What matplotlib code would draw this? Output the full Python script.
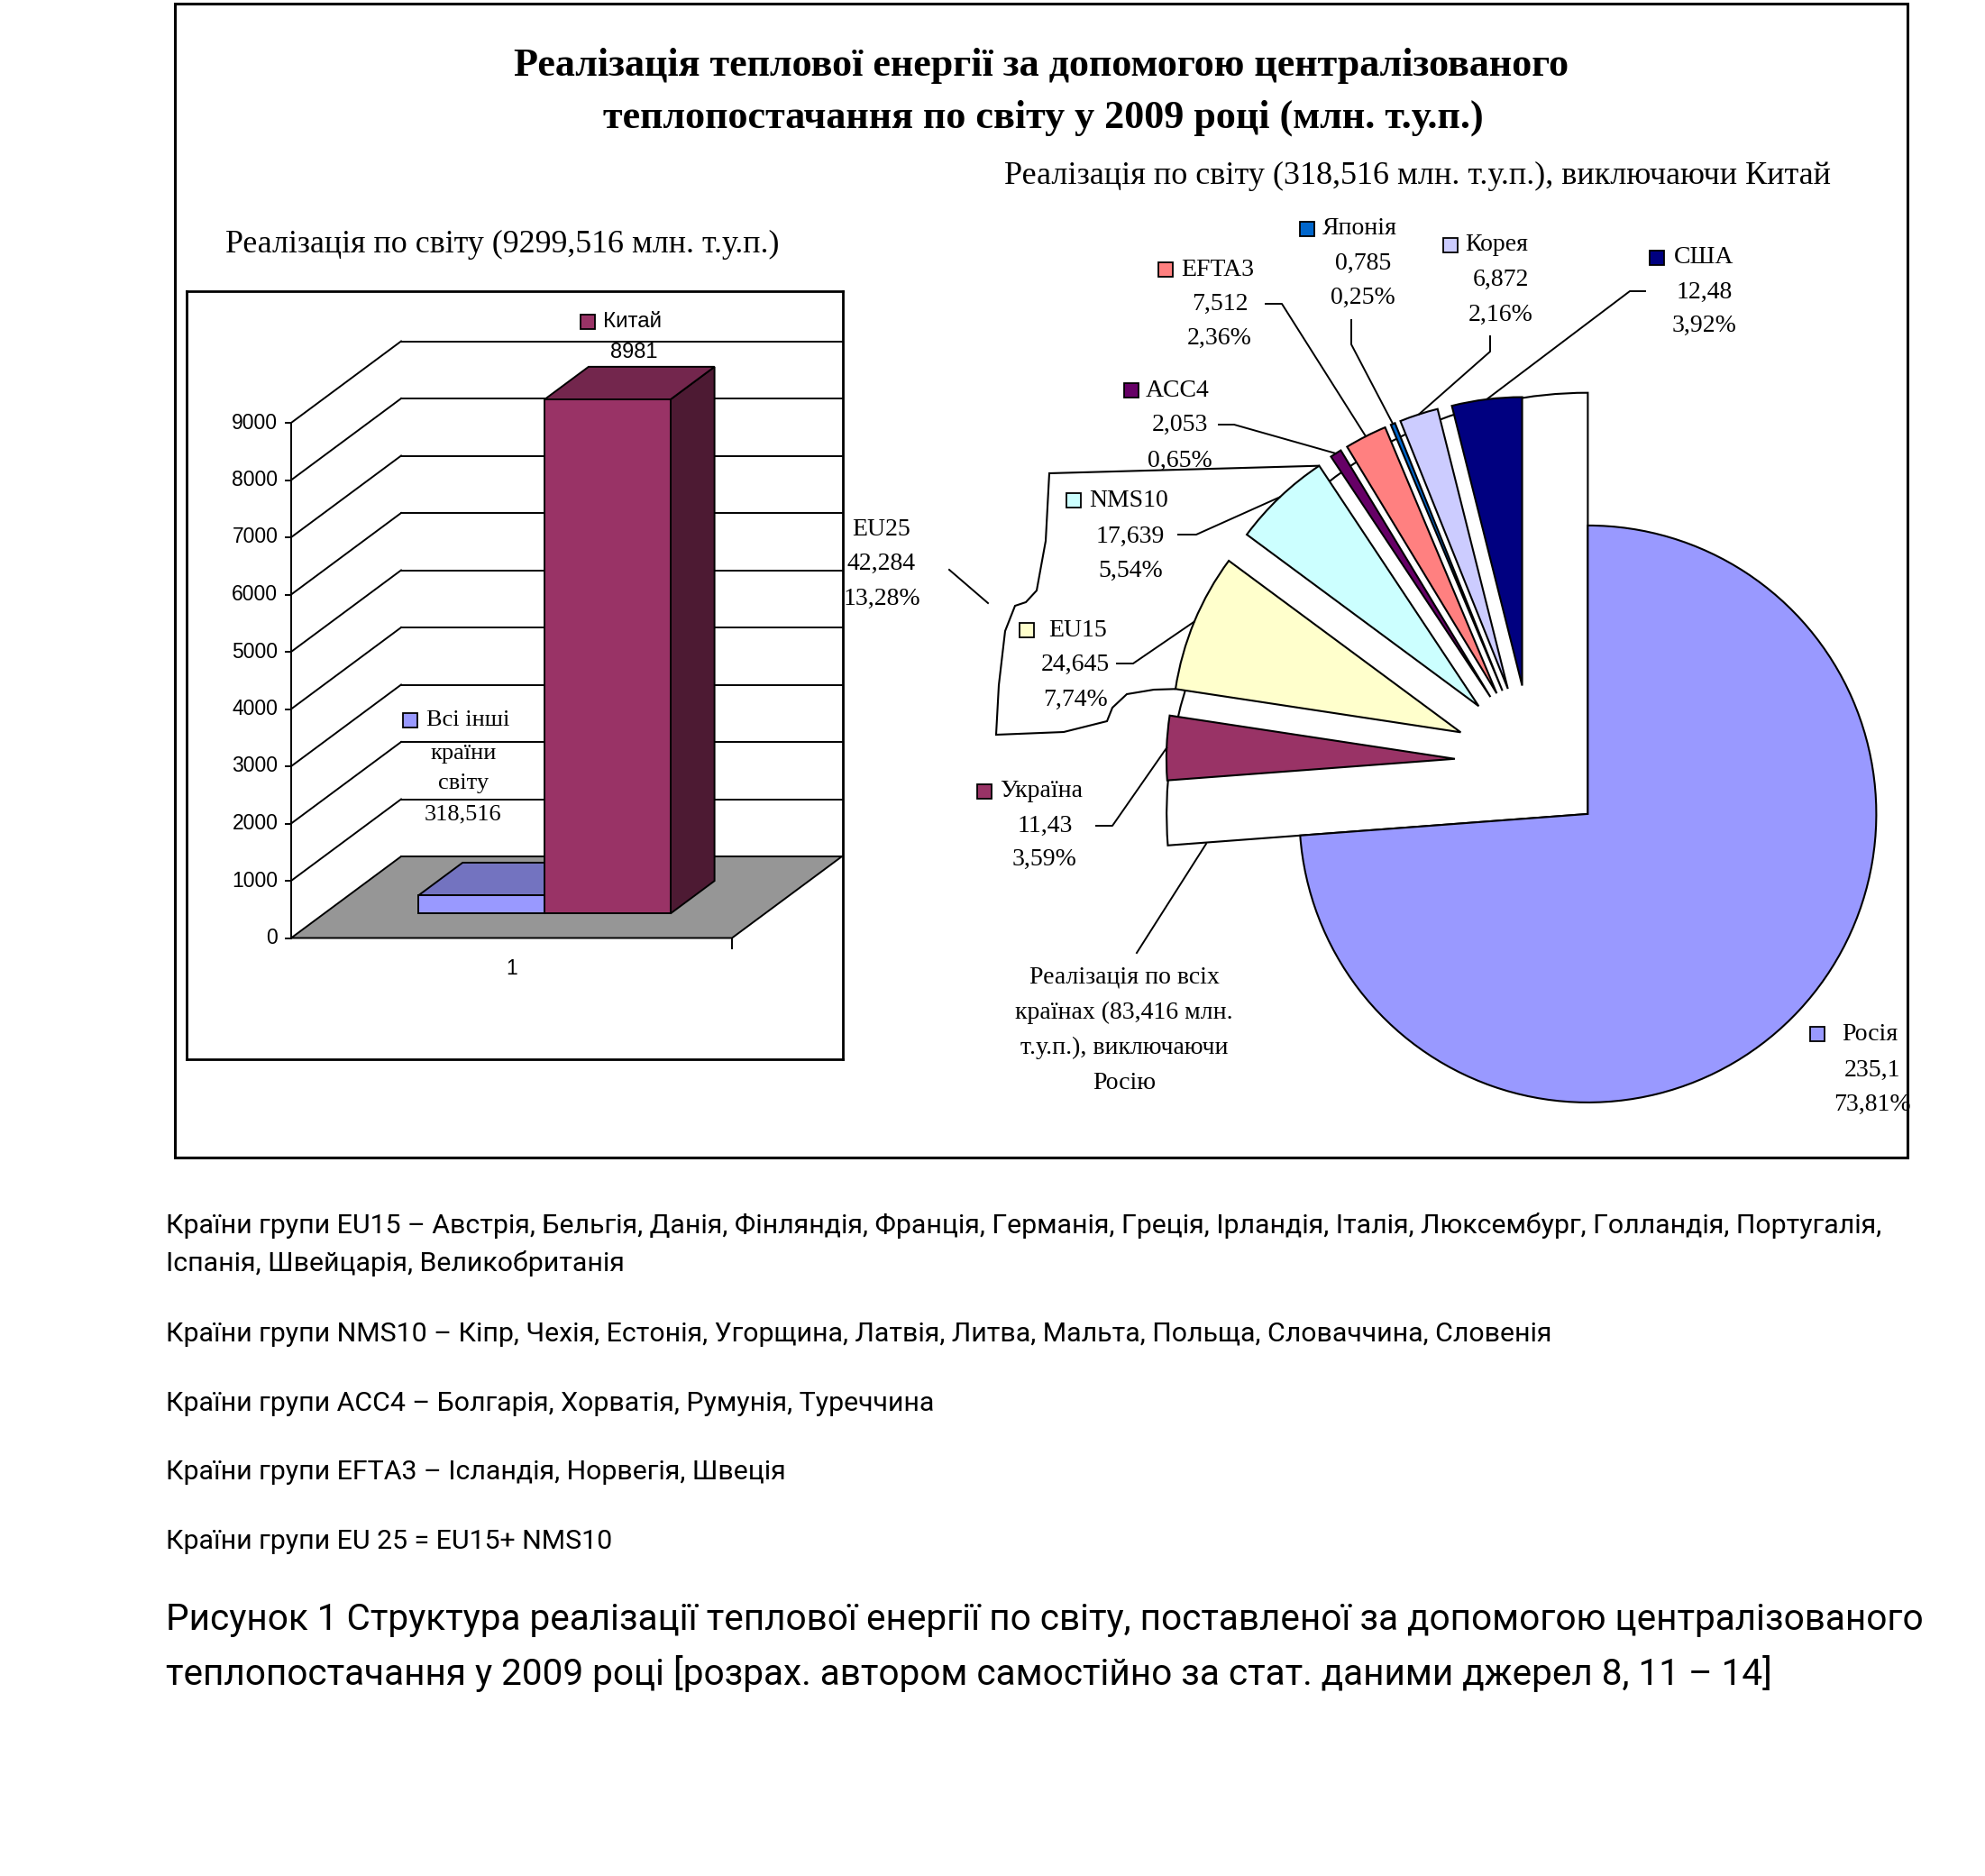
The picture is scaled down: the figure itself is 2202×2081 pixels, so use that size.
import numpy as np
import matplotlib
matplotlib.use("Agg")
import matplotlib.pyplot as plt
from matplotlib.patches import Polygon, Wedge, PathPatch, Rectangle
from matplotlib.path import Path

W, H = 2202, 2081

# ---- дані ----
bar_names = ['Всі інші країни світу', 'Китай']
bar_values = [318.516, 8981]
bar_colors = ['#9999ff', '#993366']
bar_top = ['#7373c0', '#73264d']
bar_side = ['#5c5c99', '#4d1a33']
bar_ticks = [0, 1000, 2000, 3000, 4000, 5000, 6000, 7000, 8000, 9000]

pie_names = ['Росія', 'Україна', 'EU15', 'NMS10', 'ACC4', 'EFTA3', 'Японія', 'Корея', 'США']
pie_values = [235.1, 11.43, 24.645, 17.639, 2.053, 7.512, 0.785, 6.872, 12.48]
pie_pct = ['73,81%', '3,59%', '7,74%', '5,54%', '0,65%', '2,36%', '0,25%', '2,16%', '3,92%']
pie_colors = ['#9999ff', '#993366', '#ffffcc', '#ccffff', '#660066', '#ff8080', '#0066cc', '#ccccff', '#000080']
eu25_lines = ['EU25', '42,284', '13,28%']
rest_lines = ['Реалізація по всіх', 'країнах (83,416 млн.', 'т.у.п.), виключаючи', 'Росію']

notes = ['Країни групи EU15 – Австрія, Бельгія, Данія, Фінляндія, Франція, Германія, Греція, Ірландія, Італія, Люксембург, Голландія, Португалія,',
         'Іспанія, Швейцарія, Великобританія',
         'Країни групи NMS10 – Кіпр, Чехія, Естонія, Угорщина, Латвія, Литва, Мальта, Польща, Словаччина, Словенія',
         'Країни групи ACC4 – Болгарія, Хорватія, Румунія, Туреччина',
         'Країни групи EFTA3 – Ісландія, Норвегія, Швеція',
         'Країни групи EU 25 = EU15+ NMS10']
caption = ['Рисунок 1 Структура реалізації теплової енергії по світу, поставленої за допомогою централізованого',
           'теплопостачання у 2009 році [розрах. автором самостійно за стат. даними джерел 8, 11 – 14]']

SERIF = ['Liberation Serif', 'DejaVu Serif']
ARIAL = ['Liberation Sans', 'DejaVu Sans']
CAL = ['Roboto', 'DejaVu Sans']
FS_PIE = 20

fig = plt.figure(figsize=(W / 100, H / 100), dpi=100)

# ---- кругова діаграма ----
Cx, Cy, R = 1699, 845, 320
ex = 0.266


def px(x, y):
    return Cx + R * x, Cy - R * y


def unpx(a, b):
    return (a - Cx) / R, (Cy - b) / R


ax_pie = fig.add_axes([0, 0, 1, 1])
total = sum(pie_values)
cum = np.concatenate([[0], np.cumsum(pie_values)]) / total
th_start = 90 - 360 * cum[:-1]
th_end = 90 - 360 * cum[1:]
mids = np.radians((th_start + th_end) / 2)

wedges, _ = ax_pie.pie(pie_values, colors=pie_colors, startangle=90, counterclock=False,
                       explode=[ex] * len(pie_values), radius=1,
                       wedgeprops=dict(edgecolor='black', linewidth=1.5))
for w in wedges:
    w.set_zorder(3)

# біла "обгортка" для всіх країн крім Росії
rc = (ex * np.cos(mids[0]), ex * np.sin(mids[0]))
ax_pie.add_patch(Wedge(rc, 1.46, 90, th_end[0] + 360, facecolor='white',
                       edgecolor='black', linewidth=1.5, zorder=1))

# виноска EU25 навколо EU15 + NMS10
c_nms = (ex * np.cos(mids[3]) + np.cos(np.radians(th_end[3])),
         ex * np.sin(mids[3]) + np.sin(np.radians(th_end[3])))
c_eu = (ex * np.cos(mids[2]) + np.cos(np.radians(th_start[2])),
        ex * np.sin(mids[2]) + np.sin(np.radians(th_start[2])))
outline_px = [(1164, 525), (1160, 600), (1150, 655), (1138, 668), (1126, 672),
              (1115, 700), (1108, 760), (1105, 815), (1180, 812), (1228, 800),
              (1234, 785), (1250, 770), (1280, 765)]
pts = [c_nms] + [unpx(a, b) for a, b in outline_px] + [c_eu]
codes = [Path.MOVETO] + [Path.LINETO] * (len(pts) - 1)
fill_pts = pts + [(ex * np.cos(mids[2]), ex * np.sin(mids[2])), (ex * np.cos(mids[3]), ex * np.sin(mids[3])), c_nms]
ax_pie.add_patch(Polygon(fill_pts, closed=True, facecolor='white', edgecolor='none', zorder=2))
ax_pie.add_patch(PathPatch(Path(pts, codes), facecolor='none', edgecolor='black', linewidth=1.5, zorder=2.1))

ax_pie.set_xlim(-Cx / R, (W - Cx) / R)
ax_pie.set_ylim((Cy - H) / R, Cy / R)
ax_pie.set_aspect('auto')
ax_pie.axis('off')

# ---- 3D стовпчикова діаграма ----
bx0, by0, bx1, by1 = 207, 323, 935, 1175
ox, oy = 323, 1040.5
ux, uy = 489.0, 0.0635
ax_bar = fig.add_axes([bx0 / W, 1 - by1 / H, (bx1 - bx0) / W, (by1 - by0) / H])
ax_bar.set_xlim((bx0 - ox) / ux, (bx1 - ox) / ux)
ax_bar.set_ylim((oy - by1) / uy, (oy - by0) / uy)
for s in ax_bar.spines.values():
    s.set_linewidth(2)
ax_bar.set_xticks([])
ax_bar.set_yticks([])
dx, dy = 122 / ux, 90.5 / uy

ax_bar.add_patch(Polygon([(0, 0), (1, 0), (1 + dx, dy), (dx, dy)], closed=True,
                         facecolor='#969696', edgecolor='black', linewidth=1.4, zorder=1))
for v in bar_ticks:
    ax_bar.plot([dx, 1 + dx], [v + dy, v + dy], color='black', lw=1.4, zorder=1)
    if v > 0:
        ax_bar.plot([0, dx], [v, v + dy], color='black', lw=1.4, zorder=1)
    ax_bar.plot([-0.012, 0], [v, v], color='black', lw=1.4, zorder=2)
    ax_bar.text(-0.03, v, str(v), ha='right', va='center', fontsize=16.5, family=ARIAL)
ax_bar.plot([0, 0], [0, bar_ticks[-1]], color='black', lw=1.4, zorder=2)
ax_bar.plot([1, 1], [0, -180], color='black', lw=1.4, zorder=2)
ax_bar.text(0.5, -540, '1', ha='center', va='center', fontsize=16.5, family=ARIAL)

bw = 1 / 3.5
gap = (1 - len(bar_values) * bw) / 2
f0, f1 = 0.3, 0.7
for j, v in enumerate(bar_values):
    x0 = gap + j * bw
    x1 = x0 + bw
    front = [(x0 + f0 * dx, f0 * dy), (x1 + f0 * dx, f0 * dy), (x1 + f0 * dx, v + f0 * dy), (x0 + f0 * dx, v + f0 * dy)]
    top = [(x0 + f0 * dx, v + f0 * dy), (x1 + f0 * dx, v + f0 * dy), (x1 + f1 * dx, v + f1 * dy), (x0 + f1 * dx, v + f1 * dy)]
    side = [(x1 + f0 * dx, f0 * dy), (x1 + f1 * dx, f1 * dy), (x1 + f1 * dx, v + f1 * dy), (x1 + f0 * dx, v + f0 * dy)]
    for poly, c in [(side, bar_side[j]), (top, bar_top[j]), (front, bar_colors[j])]:
        ax_bar.add_patch(Polygon(poly, closed=True, facecolor=c, edgecolor='black', linewidth=1.4, zorder=3 + j))

# ---- текст ----
ax_t = fig.add_axes([0, 0, 1, 1])
ax_t.set_xlim(0, W)
ax_t.set_ylim(H, 0)
ax_t.axis('off')
ax_t.add_patch(Rectangle((194, 4), 2116 - 194, 1284 - 4, fill=False, edgecolor='black', linewidth=2.2))

ax_t.text(1155, 73, 'Реалізація теплової енергії за допомогою централізованого', ha='center', va='center',
          fontsize=31.8, fontweight='bold', family=SERIF)
ax_t.text(1157, 131, 'теплопостачання по світу у 2009 році (млн. т.у.п.)', ha='center', va='center',
          fontsize=31.8, fontweight='bold', family=SERIF)
ax_t.text(1572, 195, 'Реалізація по світу (318,516 млн. т.у.п.), виключаючи Китай', ha='center', va='center',
          fontsize=26, family=SERIF)
ax_t.text(557, 271, 'Реалізація по світу (9299,516 млн. т.у.п.)', ha='center', va='center',
          fontsize=25.8, family=SERIF)


def key(x, y, color):
    ax_t.plot([x], [y], marker='s', markersize=11, markerfacecolor=color,
              markeredgecolor='black', markeredgewidth=1.3)


# підписи стовпчиків
key(652, 357, bar_colors[1])
ax_t.text(669, 357, bar_names[1], ha='left', va='center', fontsize=17.5, family=ARIAL)
ax_t.text(703, 391, f'{bar_values[1]:g}', ha='center', va='center', fontsize=17, family=ARIAL)
key(455, 799, bar_colors[0])
ax_t.text(473, 799, 'Всі інші', ha='left', va='center', fontsize=19, family=SERIF)
ax_t.text(514, 836, 'країни', ha='center', va='center', fontsize=19, family=SERIF)
ax_t.text(514, 869, 'світу', ha='center', va='center', fontsize=19, family=SERIF)
ax_t.text(514, 903, str(bar_values[0]).replace('.', ','), ha='center', va='center', fontsize=19, family=SERIF)

# підписи секторів: квадрат x, текст x, центр чисел x, три y, точки виноски
layout = {
    'Росія': (2016, 2043, 2077, (1147, 1187, 1225), []),
    'Україна': (1092, 1109, 1159, (878, 916, 953), [(1216, 916), (1234, 916)]),
    'EU15': (1139, 1163, 1193, (699, 737, 776), [(1239, 736), (1257, 736)]),
    'NMS10': (1191, 1208, 1254, (555, 595, 633), [(1307, 593), (1327, 593)]),
    'ACC4': (1255, 1271, 1309, (433, 471, 511), [(1352, 471), (1369, 471)]),
    'EFTA3': (1293, 1310, 1353, (299, 337, 375), [(1404, 337), (1422, 337)]),
    'Японія': (1450, 1467, 1512, (254, 292, 330), [(1499, 355), (1499, 382)]),
    'Корея': (1609, 1625, 1665, (272, 310, 349), [(1653, 373), (1653, 390)]),
    'США': (1838, 1857, 1891, (286, 324, 361), [(1825, 323), (1808, 323)]),
}
for i, name in enumerate(pie_names):
    sx, tx, nx, ys, lead = layout[name]
    key(sx, ys[0], pie_colors[i])
    ax_t.text(tx, ys[0], name, ha='left', va='center', fontsize=FS_PIE, family=SERIF)
    ax_t.text(nx, ys[1], str(pie_values[i]).replace('.', ','), ha='center', va='center', fontsize=FS_PIE, family=SERIF)
    ax_t.text(nx, ys[2], pie_pct[i], ha='center', va='center', fontsize=FS_PIE, family=SERIF)
    if lead:
        ax_, ay_ = px((1 + ex) * np.cos(mids[i]), (1 + ex) * np.sin(mids[i]))
        xs = [p[0] for p in lead] + [ax_]
        yy = [p[1] for p in lead] + [ay_]
        ax_t.plot(xs, yy, color='black', lw=1.4)

for k, s in enumerate(eu25_lines):
    ax_t.text(978, 587 + 38.5 * k, s, ha='center', va='center', fontsize=FS_PIE, family=SERIF)
ax_t.plot([1053, 1096], [632, 669], color='black', lw=1.4)

for k, s in enumerate(rest_lines):
    ax_t.text(1247, 1084 + 39 * k, s, ha='center', va='center', fontsize=FS_PIE, family=SERIF)
ax_t.plot([1261, 1338], [1057, 936], color='black', lw=1.4)

# примітки під діаграмою
note_y = [1359, 1401, 1480, 1557, 1633, 1710]
for s, y in zip(notes, note_y):
    ax_t.text(184, y, s, ha='left', va='center', fontsize=21.8, family=CAL)
for s, y in zip(caption, [1796, 1856]):
    ax_t.text(184, y, s, ha='left', va='center', fontsize=29.2, family=CAL)

fig.savefig('out.png', dpi=100)
